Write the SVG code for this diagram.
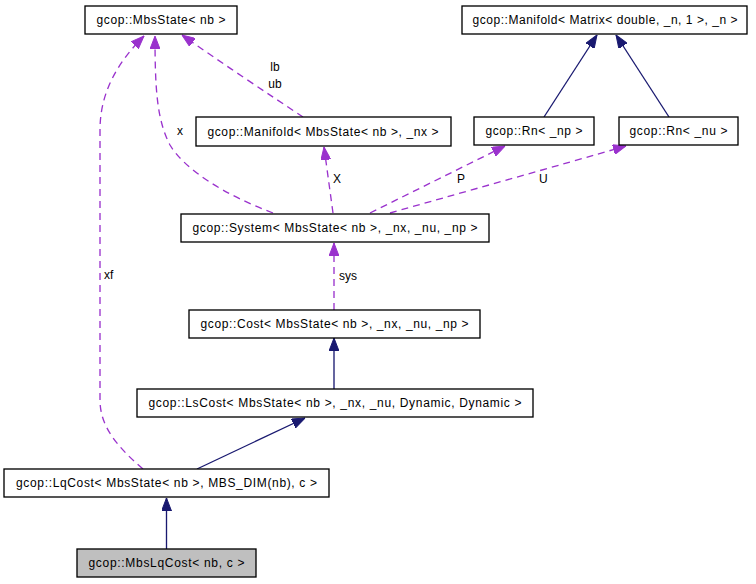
<svg xmlns="http://www.w3.org/2000/svg" width="756" height="584" viewBox="0 0 756 584">
<style>
.node rect{fill:#ffffff;stroke:#000000;stroke-width:1.33}
.node.focus rect{fill:#bfbfbf}
text{font-family:"Liberation Sans",Arial,sans-serif;font-size:12px;fill:#000000}
.node text{text-anchor:middle}
.inh{fill:none;stroke:#191970;stroke-width:1.33;marker-end:url(#arrNavy)}
.use{fill:none;stroke:#9a32cd;stroke-width:1.33;stroke-dasharray:7,5;marker-end:url(#arrPurple)}
</style>
<defs>
<marker id="arrNavy" viewBox="0 0 13 10" markerWidth="13" markerHeight="10" refX="13" refY="5" orient="auto" markerUnits="userSpaceOnUse">
<path d="M0,0 L13,5 L0,10 z" fill="#191970" stroke="#191970" stroke-width="1"/>
</marker>
<marker id="arrPurple" viewBox="0 0 13 10" markerWidth="13" markerHeight="10" refX="13" refY="5" orient="auto" markerUnits="userSpaceOnUse">
<path d="M0,0 L13,5 L0,10 z" fill="#9a32cd" stroke="#9a32cd" stroke-width="1"/>
</marker>
</defs>
<rect x="0" y="0" width="756" height="584" fill="#ffffff"/>

<g id="connectors">
<path class="inh" d="M166.5,549 L166.5,498"/>
<path class="inh" d="M197,469 L305,418"/>
<path class="inh" d="M334,389 L334,338"/>
<path class="inh" d="M544,117 L597,35"/>
<path class="inh" d="M669,117 L616,35"/>
<path class="use" d="M334,310 L334,243"/>
<text x="339" y="280">sys</text>
<path class="use" d="M333,213 L324,147"/>
<text x="333" y="183">X</text>
<path class="use" d="M370,213 L505,146"/>
<text x="457" y="183">P</text>
<path class="use" d="M390,213 C450,196 560,165 626,146"/>
<text x="539" y="183">U</text>
<path class="use" d="M303,117 C270,95 220,62 182,35"/>
<text x="275" y="71" text-anchor="middle">lb</text>
<text x="275" y="88" text-anchor="middle">ub</text>
<path class="use" d="M273,213 C225,195 185,170 170,145 C157,120 155,90 155,36"/>
<text x="177" y="135">x</text>
<path class="use" d="M143,469 C115,445 100,425 100,400 L100,130 C100,95 115,65 144,36"/>
<text x="104" y="279">xf</text>
</g>

<g id="node-MbsState" class="node">
<rect x="85" y="6" width="152" height="28"/>
<text x="161" y="24" textLength="129" lengthAdjust="spacing">gcop::MbsState&lt; nb &gt;</text>
</g>
<g id="node-ManifoldMatrix" class="node">
<rect x="462" y="6" width="285" height="28"/>
<text x="605" y="24" textLength="265" lengthAdjust="spacing">gcop::Manifold&lt; Matrix&lt; double, _n, 1 &gt;, _n &gt;</text>
</g>
<g id="node-ManifoldMbsState" class="node">
<rect x="196" y="117" width="255" height="29"/>
<text x="323" y="136" textLength="231" lengthAdjust="spacing">gcop::Manifold&lt; MbsState&lt; nb &gt;, _nx &gt;</text>
</g>
<g id="node-RnNp" class="node">
<rect x="474" y="117" width="120" height="28"/>
<text x="534" y="135" textLength="97" lengthAdjust="spacing">gcop::Rn&lt; _np &gt;</text>
</g>
<g id="node-RnNu" class="node">
<rect x="619" y="117" width="119" height="28"/>
<text x="678.5" y="135" textLength="98" lengthAdjust="spacing">gcop::Rn&lt; _nu &gt;</text>
</g>
<g id="node-System" class="node">
<rect x="181" y="214" width="308" height="28"/>
<text x="335" y="232" textLength="285" lengthAdjust="spacing">gcop::System&lt; MbsState&lt; nb &gt;, _nx, _nu, _np &gt;</text>
</g>
<g id="node-Cost" class="node">
<rect x="189" y="310" width="291" height="28"/>
<text x="334.5" y="328" textLength="268" lengthAdjust="spacing">gcop::Cost&lt; MbsState&lt; nb &gt;, _nx, _nu, _np &gt;</text>
</g>
<g id="node-LsCost" class="node">
<rect x="137" y="389" width="396" height="28"/>
<text x="335" y="407" textLength="373" lengthAdjust="spacing">gcop::LsCost&lt; MbsState&lt; nb &gt;, _nx, _nu, Dynamic, Dynamic &gt;</text>
</g>
<g id="node-LqCost" class="node">
<rect x="4" y="469" width="325" height="28"/>
<text x="166.5" y="487" textLength="301" lengthAdjust="spacing">gcop::LqCost&lt; MbsState&lt; nb &gt;, MBS_DIM(nb), c &gt;</text>
</g>
<g id="node-MbsLqCost" class="node focus">
<rect x="77" y="549" width="179" height="28"/>
<text x="166.5" y="567" textLength="156" lengthAdjust="spacing">gcop::MbsLqCost&lt; nb, c &gt;</text>
</g>
</svg>
